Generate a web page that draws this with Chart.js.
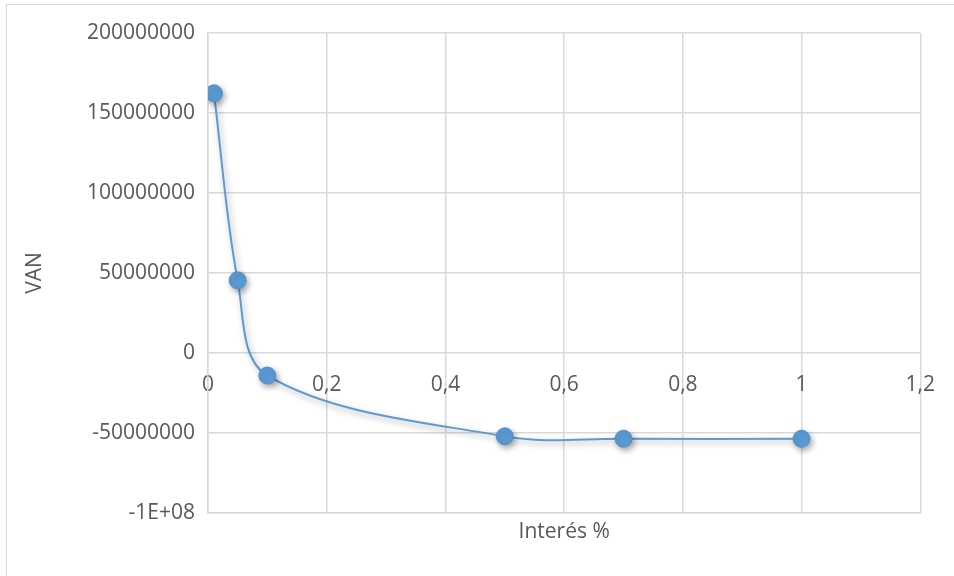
<!DOCTYPE html>
<html>
<head>
<meta charset="utf-8">
<script src="https://cdn.jsdelivr.net/npm/chart.js@4.4.1/dist/chart.umd.min.js"></script>
<style>
  html, body { margin: 0; padding: 0; background: #fff; }
  #wrap { position: relative; width: 954px; height: 576px; overflow: hidden; }
  #frame { position: absolute; left: 6px; top: 4px; width: 1000px; height: 1000px; border: 1px solid #d9d9d9; }
  canvas { position: absolute; left: 0; top: 0; }
</style>
</head>
<body>
<div id="wrap">
  <div id="frame"></div>
  <canvas id="vanChart" width="954" height="576"></canvas>
</div>
<script>
// Interés vs VAN
const interes = [0.01, 0.05, 0.1, 0.5, 0.7, 1];
const van = [162300000, 45400000, -14100000, -52100000, -53600000, -53600000];
const xTickLabels = ['0', '0,2', '0,4', '0,6', '0,8', '1', '1,2'];
const yTickLabels = ['-1E+08', '-50000000', '0', '50000000', '100000000', '150000000', '200000000'];

const blue = '#5B9BD5';
const grey = '#595959';
const gridColor = '#d9d9d9';
const font = { family: 'Open Sans', size: 21 };

const shadowPlugin = {
  id: 'shadow',
  beforeDatasetsDraw(chart) {
    const ctx = chart.ctx;
    ctx.save();
    ctx.shadowColor = 'rgba(0,0,0,0.35)';
    ctx.shadowBlur = 6;
    ctx.shadowOffsetX = 2;
    ctx.shadowOffsetY = 3;
  },
  afterDatasetsDraw(chart) {
    chart.ctx.restore();
  }
};

const ctx = document.getElementById('vanChart').getContext('2d');
new Chart(ctx, {
  type: 'scatter',
  data: {
    datasets: [{
      data: interes.map((x, i) => ({ x: x, y: van[i] })),
      showLine: true,
      borderColor: blue,
      borderWidth: 2,
      tension: 0.35,
      pointRadius: 8.5,
      pointBackgroundColor: blue,
      pointBorderColor: '#5290cc',
      pointBorderWidth: 1,
      xAxisID: 'x'
    }]
  },
  options: {
    responsive: false,
    animation: false,
    layout: { padding: { left: 18, top: 33, right: 33, bottom: 27 } },
    plugins: {
      legend: { display: false },
      tooltip: { enabled: false }
    },
    scales: {
      x: {
        type: 'linear',
        position: 'bottom',
        min: 0,
        max: 1.2,
        ticks: { display: false, stepSize: 0.2 },
        grid: { color: gridColor, lineWidth: 1.5, drawTicks: false },
        border: { color: gridColor, width: 1.5 },
        title: {
          display: true,
          text: 'Interés %',
          color: grey,
          font: font,
          padding: { top: 6, bottom: 4 }
        },
        afterFit(scale) { scale.height = 36; }
      },
      x2: {
        type: 'linear',
        position: { y: 0 },
        min: 0,
        max: 1.2,
        ticks: {
          stepSize: 0.2,
          color: grey,
          font: font,
          padding: 19,
          maxRotation: 0,
          callback: (v, i) => xTickLabels[i]
        },
        grid: { display: false, drawTicks: false },
        border: { display: false }
      },
      y: {
        type: 'linear',
        min: -100000000,
        max: 200000000,
        ticks: {
          stepSize: 50000000,
          color: grey,
          font: font,
          padding: 13,
          callback: (v, i) => yTickLabels[i]
        },
        grid: { color: gridColor, lineWidth: 1.5, drawTicks: false },
        border: { color: gridColor, width: 1.5 },
        title: {
          display: true,
          text: 'VAN',
          color: grey,
          font: font,
          padding: { top: 4, bottom: 4 }
        },
        afterFit(scale) { scale.width = 190; }
      }
    }
  },
  plugins: [shadowPlugin]
});
</script>
</body>
</html>
